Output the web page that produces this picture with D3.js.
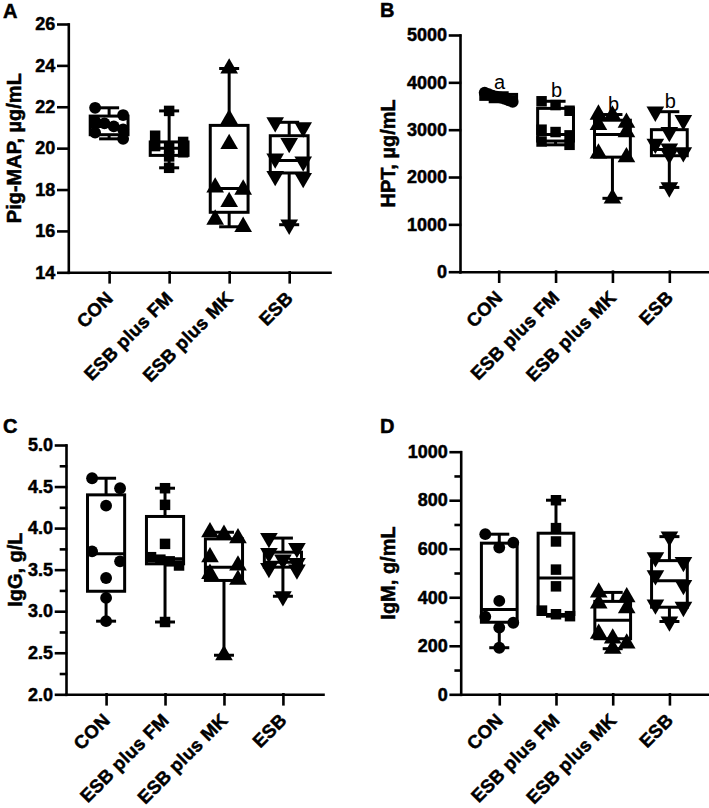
<!DOCTYPE html>
<html>
<head>
<meta charset="utf-8">
<script src="https://cdn.jsdelivr.net/npm/d3@7"></script>
<style>
  body { margin: 0; background: #fff; }
  svg text { font-family: "Liberation Sans", Arial, sans-serif; fill: #000; }
  svg text.heavy { stroke: #000; stroke-width: 0.5px; }
</style>
</head>
<body>
<svg id="chart" width="709" height="808"></svg>
<script>
// groups along every x axis
var groups = ['CON', 'ESB plus FM', 'ESB plus MK', 'ESB'];

// A - Pig-MAP (8 pigs per group)
var pigmapPoints = [
  [21.95, 21.6, 21.3, 21.2, 21.05, 20.9, 20.75, 20.45],
  [21.8, 20.6, 20.3, 20.1, 20.0, 19.8, 19.6, 19.05],
  [23.85, 21.4, 20.2, 18.1, 18.0, 17.4, 16.55, 16.2],
  [21.25, 21.0, 20.25, 19.5, 19.35, 18.65, 18.55, 16.3]
];
// box stats: [min, q1, median, q3, max]
var pigmapBoxes = [
  [20.45, 20.65, 21.05, 21.55, 21.95],
  [19.05, 19.65, 20.0, 20.3, 21.8],
  [16.2, 16.9, 18.05, 21.1, 23.85],
  [16.3, 18.8, 19.4, 20.6, 21.25]
];
var pigmapTicks = [14, 16, 18, 20, 22, 24, 26];

// B - HPT
var hptPoints = [
  [3780, 3750, 3720, 3700, 3680, 3650, 3620, 3590],
  [3600, 3520, 3400, 3000, 2950, 2880, 2750, 2680],
  [3320, 3300, 3150, 3100, 2950, 2500, 2420, 1550],
  [3380, 3200, 2950, 2700, 2600, 2520, 2480, 1780]
];
var hptBoxes = [
  [3590, 3640, 3690, 3745, 3780],
  [2680, 2760, 2900, 3450, 3600],
  [1550, 2420, 2900, 3200, 3320],
  [1780, 2450, 2580, 3000, 3380]
];
var hptTicks = [0, 1000, 2000, 3000, 4000, 5000];
var hptLetters = ['a', 'b', 'b', 'b'];

// C - IgG
var iggPoints = [
  [4.6, 4.48, 4.27, 3.72, 3.6, 3.4, 3.16, 2.88],
  [4.48, 4.28, 3.81, 3.65, 3.62, 3.6, 3.55, 2.87],
  [3.95, 3.92, 3.88, 3.65, 3.55, 3.45, 3.38, 2.47],
  [3.88, 3.76, 3.7, 3.62, 3.58, 3.52, 3.5, 3.18]
];
var iggBoxes = [
  [2.88, 3.24, 3.69, 4.40, 4.6],
  [2.87, 3.57, 3.63, 4.14, 4.48],
  [2.47, 3.37, 3.53, 3.87, 3.95],
  [3.18, 3.53, 3.59, 3.71, 3.88]
];
var iggTicks = [2.0, 2.5, 3.0, 3.5, 4.0, 4.5, 5.0];
var iggMinorTicks = [2.25, 2.75, 3.25, 3.75, 4.25, 4.75];

// D - IgM
var igmPoints = [
  [660, 625, 605, 385, 320, 295, 275, 192],
  [800, 685, 630, 514, 445, 345, 330, 322],
  [420, 400, 375, 355, 250, 230, 210, 188],
  [650, 565, 545, 490, 450, 370, 360, 300]
];
var igmBoxes = [
  [192, 297, 350, 623, 660],
  [322, 329, 479, 664, 800],
  [188, 229, 305, 383, 420],
  [300, 359, 468, 551, 650]
];
var igmTicks = [0, 200, 400, 600, 800, 1000];
var igmMinorTicks = [100, 300, 500, 700, 900];

// one marker shape per group
var shapes = [d3.symbolCircle, d3.symbolSquare, d3.symbolTriangle, d3.symbolTriangle];
var shapeSize = [110, 110, 135, 135];
var shapeFlip = [false, false, false, true];

var svg = d3.select('#chart');

// points that sit close together go in one row and get spread
// across the box, the way prism scatters them
function swarm(vals, y, cx, rowH, half) {
  var rows = [], cur = null;
  vals.slice().sort(d3.descending).forEach(function(v) {
    var py = y(v);
    if (!cur || py - cur.start > rowH) {
      cur = {start: py, items: []};
      rows.push(cur);
    }
    cur.items.push(py);
  });
  var out = [];
  rows.forEach(function(r) {
    var n = r.items.length;
    r.items.forEach(function(py, j) {
      var off = n == 1 ? 0 : -half + 2 * half * j / (n - 1);
      out.push({x: cx + off, y: py});
    });
  });
  return out;
}

function drawPanel(p) {
  var g = svg.append('g');

  var x = d3.scalePoint().domain(groups).range([p.left, p.right]).padding(0.68);
  var y = d3.scaleLinear().domain(p.domain).range([p.bottom, p.top]);
  var boxW = x.step() * 0.63;
  var capW = 20;

  // minor ticks (no labels)
  if (p.minor) {
    g.append('g')
      .attr('class', 'axis')
      .attr('transform', 'translate(' + p.left + ',0)')
      .call(d3.axisLeft(y).tickValues(p.minor).tickSize(5).tickSizeOuter(0).tickFormat(''))
      .select('.domain').remove();
  }

  // y axis
  g.append('g')
    .attr('class', 'axis')
    .attr('transform', 'translate(' + p.left + ',0)')
    .call(d3.axisLeft(y).tickValues(p.ticks).tickSize(10).tickSizeOuter(0)
      .tickPadding(3).tickFormat(p.fmt));

  // x axis
  g.append('g')
    .attr('class', 'axis')
    .attr('transform', 'translate(0,' + p.bottom + ')')
    .call(d3.axisBottom(x).tickSize(10).tickSizeOuter(0).tickFormat(''));

  g.selectAll('.axis path, .axis line')
    .attr('stroke', '#000')
    .attr('stroke-width', 2.6)
    .attr('stroke-linecap', 'square');
  g.selectAll('.axis text')
    .attr('class', 'heavy')
    .attr('font-size', 18)
    .attr('font-weight', 'bold')
    .attr('fill', '#000');

  // rotated group names
  g.selectAll('text.xlab')
    .data(groups)
    .enter().append('text')
    .attr('class', 'xlab heavy')
    .attr('transform', function(d) {
      return 'translate(' + (x(d) + 5) + ',' + (p.bottom + 27) + ') rotate(-45)';
    })
    .attr('text-anchor', 'end')
    .attr('font-size', 18.5)
    .attr('letter-spacing', 0.3)
    .attr('font-weight', 'bold')
    .text(function(d) { return d; });

  // y title
  g.append('text')
    .attr('class', 'heavy')
    .attr('transform', 'translate(' + (p.left - p.titleOffset) + ',' + ((p.top + p.bottom) / 2) + ') rotate(-90)')
    .attr('text-anchor', 'middle')
    .attr('font-size', 20)
    .attr('font-weight', 'bold')
    .text(p.title);

  // panel letter
  g.append('text')
    .attr('class', 'heavy')
    .attr('x', p.letterX)
    .attr('y', p.letterY)
    .attr('font-size', 20)
    .attr('font-weight', 'bold')
    .text(p.letter);

  // boxes and whiskers
  groups.forEach(function(name, i) {
    var b = p.boxes[i];
    var cx = x(name);
    var bg = g.append('g')
      .attr('stroke', '#000')
      .attr('stroke-width', 3)
      .attr('fill', 'none');

    bg.append('line').attr('x1', cx).attr('x2', cx).attr('y1', y(b[3])).attr('y2', y(b[4]));
    bg.append('line').attr('x1', cx).attr('x2', cx).attr('y1', y(b[1])).attr('y2', y(b[0]));
    bg.append('line').attr('x1', cx - capW / 2).attr('x2', cx + capW / 2).attr('y1', y(b[4])).attr('y2', y(b[4]));
    bg.append('line').attr('x1', cx - capW / 2).attr('x2', cx + capW / 2).attr('y1', y(b[0])).attr('y2', y(b[0]));
    bg.append('rect')
      .attr('x', cx - boxW / 2)
      .attr('y', y(b[3]))
      .attr('width', boxW)
      .attr('height', y(b[1]) - y(b[3]))
      .attr('fill', '#fff');
    bg.append('line').attr('x1', cx - boxW / 2).attr('x2', cx + boxW / 2).attr('y1', y(b[2])).attr('y2', y(b[2]));

    // the points on top
    var sym = d3.symbol().type(shapes[i]).size(shapeSize[i]);
    g.append('g').selectAll('path')
      .data(swarm(p.points[i], y, cx, 10, 14))
      .enter().append('path')
      .attr('d', sym)
      .attr('fill', '#000')
      .attr('transform', function(d) {
        return 'translate(' + d.x + ',' + d.y + ')' + (shapeFlip[i] ? ' rotate(180)' : '');
      });
  });

  // significance letters above the groups
  if (p.letters) {
    g.selectAll('text.sig')
      .data(p.letters)
      .enter().append('text')
      .attr('class', 'sig')
      .attr('x', function(d, i) { return x(groups[i]) + 1; })
      .attr('y', function(d, i) { return y(p.boxes[i][4]) - 4; })
      .attr('text-anchor', 'middle')
      .attr('font-size', 20)
      .text(function(d) { return d; });
  }
}

drawPanel({
  letter: 'A', letterX: 3, letterY: 18,
  left: 68.3, right: 330, top: 24, bottom: 272.3,
  domain: [14, 26], ticks: pigmapTicks, fmt: d3.format('d'),
  title: 'Pig-MAP, µg/mL', titleOffset: 47,
  points: pigmapPoints, boxes: pigmapBoxes
});

drawPanel({
  letter: 'B', letterX: 380, letterY: 17,
  left: 460, right: 708, top: 35, bottom: 271.7,
  domain: [0, 5000], ticks: hptTicks, fmt: d3.format('d'),
  title: 'HPT, µg/mL', titleOffset: 65,
  points: hptPoints, boxes: hptBoxes, letters: hptLetters
});

drawPanel({
  letter: 'C', letterX: 3, letterY: 433,
  left: 66, right: 323, top: 445, bottom: 694.3,
  domain: [2, 5], ticks: iggTicks, minor: iggMinorTicks, fmt: d3.format('.1f'),
  title: 'IgG, g/L', titleOffset: 44,
  points: iggPoints, boxes: iggBoxes
});

drawPanel({
  letter: 'D', letterX: 380, letterY: 433,
  left: 460.7, right: 708, top: 451.7, bottom: 694.3,
  domain: [0, 1000], ticks: igmTicks, minor: igmMinorTicks, fmt: d3.format('d'),
  title: 'IgM, g/mL', titleOffset: 66,
  points: igmPoints, boxes: igmBoxes
});
</script>
</body>
</html>
